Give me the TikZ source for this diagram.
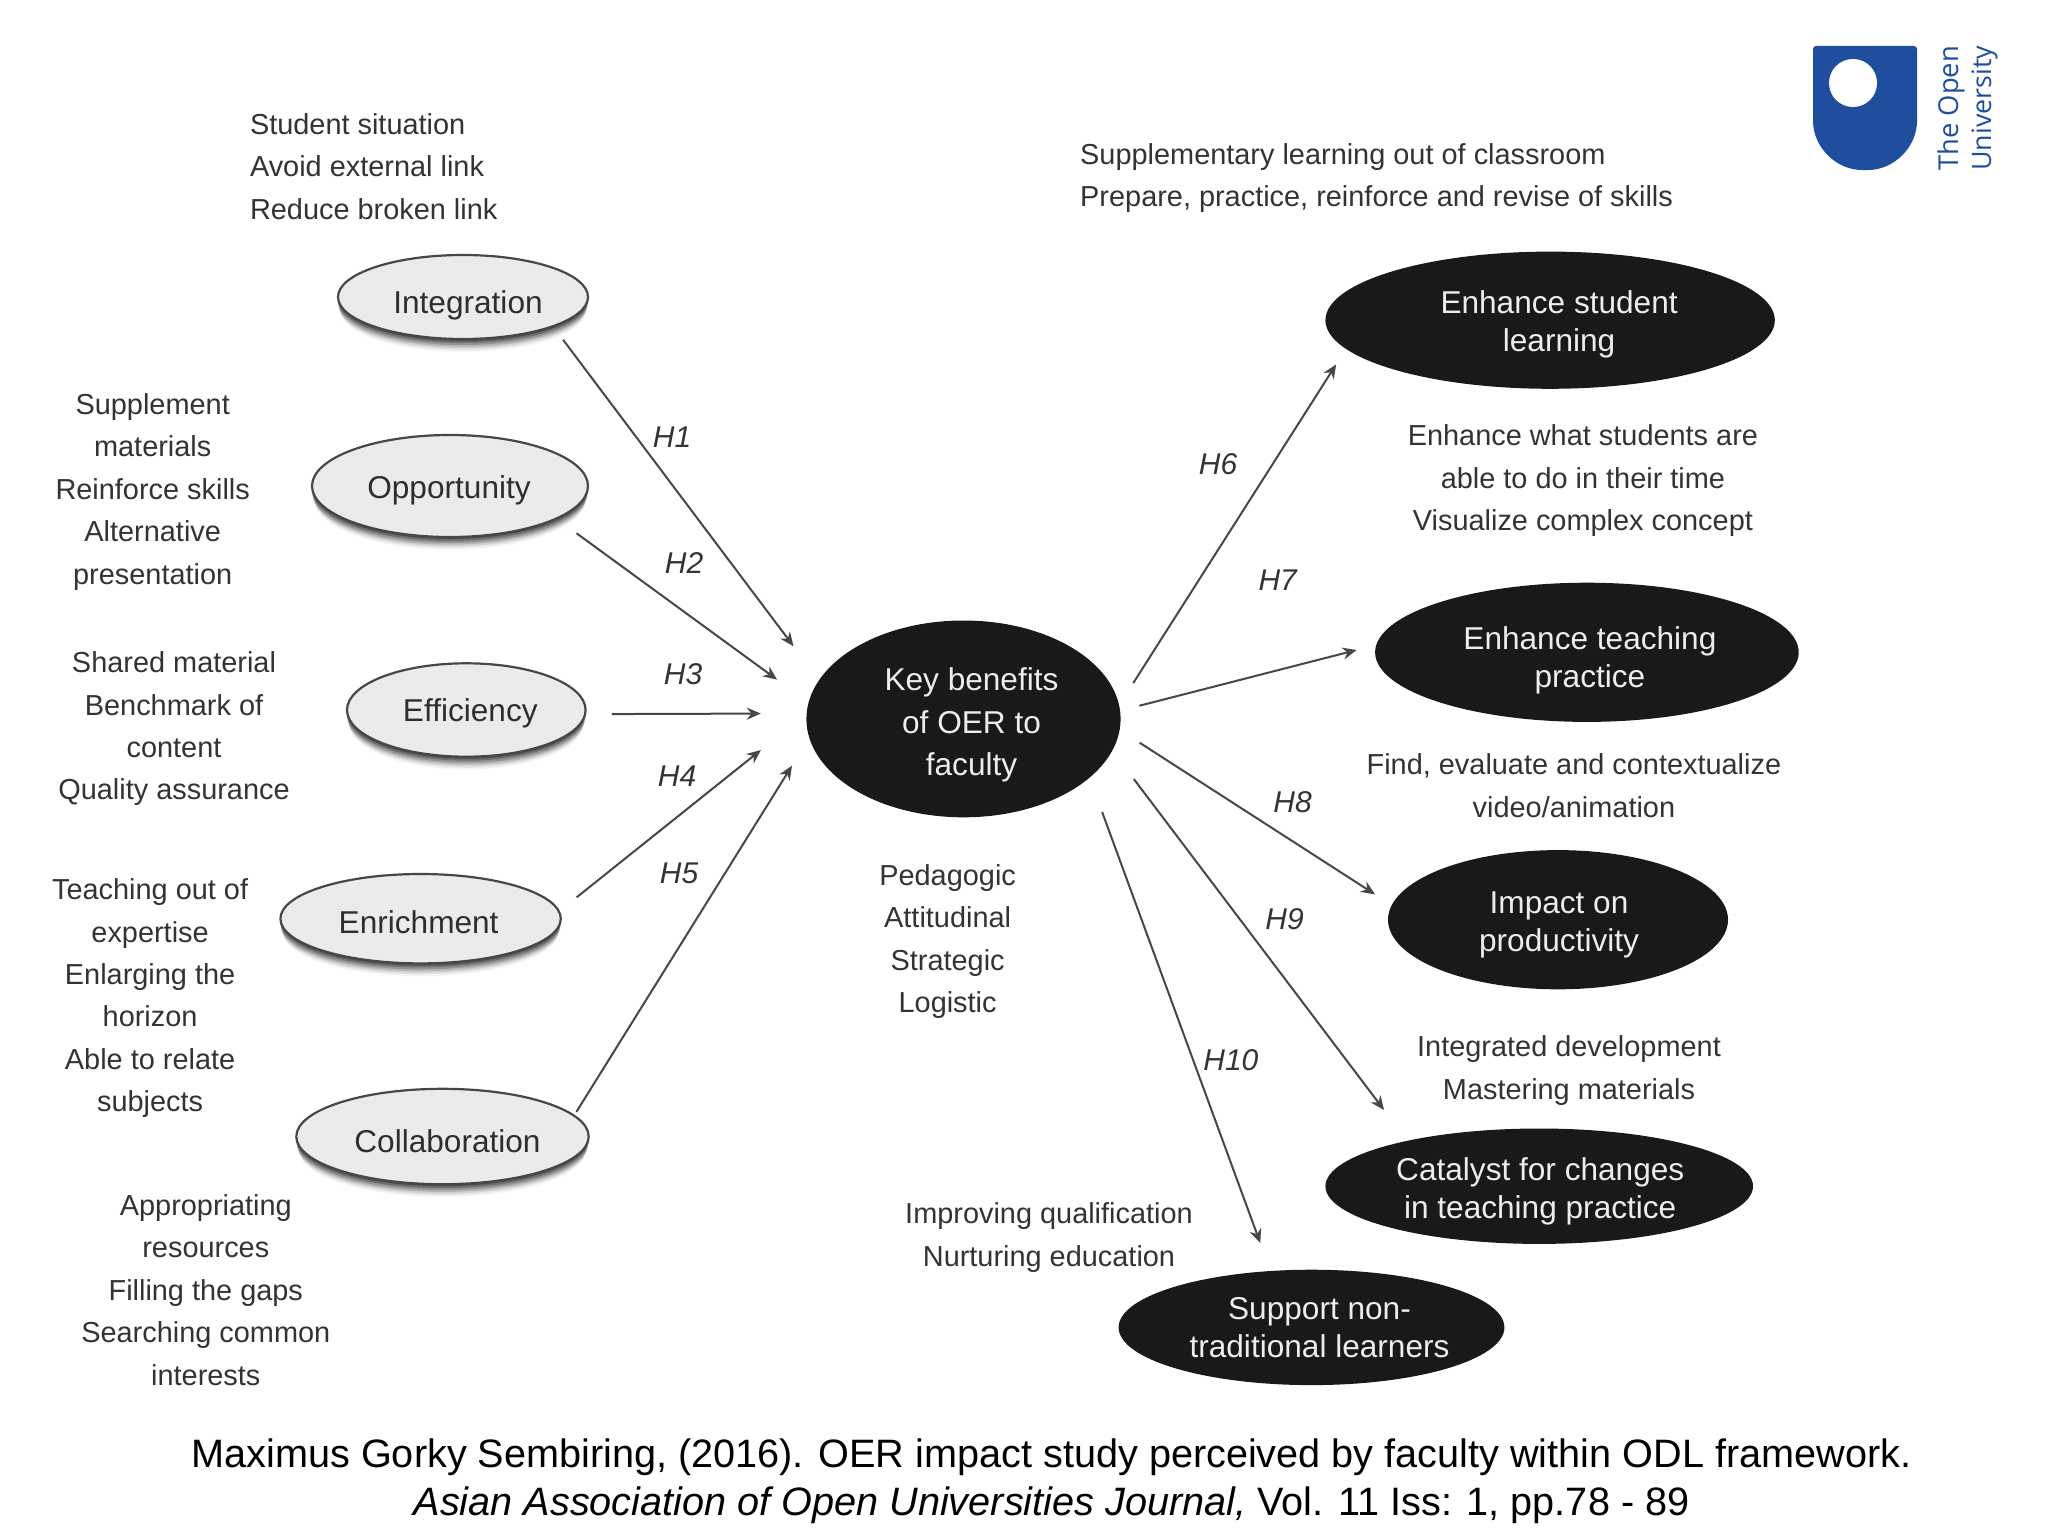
\documentclass[tikz,border=0pt]{standalone}
\usepackage{fontspec}
\setmainfont{Liberation Sans}
\newfontfamily\logofont{Open Sans}
\usetikzlibrary{shapes.geometric,arrows.meta,shadows}
\definecolor{ink}{HTML}{333333}
\definecolor{oublue}{HTML}{1F4E9E}
\newcommand{\nudged}[3]{\mbox{\kern#1\raisebox{-#2}[\height][\depth]{\begin{tabular}{@{}c@{}}#3\end{tabular}}\kern-#1}}
\tikzset{
  softshadow/.style={
    general shadow={shadow yshift=-7pt,shadow scale=0.98,fill=black,opacity=0.04},
    general shadow={shadow yshift=-6pt,shadow scale=0.985,fill=black,opacity=0.06},
    general shadow={shadow yshift=-5pt,shadow scale=0.99,fill=black,opacity=0.09},
    general shadow={shadow yshift=-4pt,shadow scale=0.995,fill=black,opacity=0.13},
    general shadow={shadow yshift=-3pt,fill=black,opacity=0.18},
    general shadow={shadow yshift=-2pt,fill=black,opacity=0.25},
    general shadow={shadow yshift=-1pt,fill=black,opacity=0.3}},
  lightnode/.style={ellipse,draw=black!72,line width=1.1pt,fill=black!8,text=black!82,
    inner sep=0pt,outer sep=0pt,font=\fontsize{15.8}{18.9}\selectfont,softshadow},
  darknode/.style={ellipse,fill=black!90,text=black!7,inner sep=0pt,outer sep=0pt,
    font=\fontsize{15.8}{18.9}\selectfont},
  note/.style={text=ink,inner sep=0pt,font=\fontsize{14.45}{21.2}\selectfont},
  hlabel/.style={text=ink,inner sep=0pt,font=\fontsize{15}{18}\selectfont\itshape},
  conn/.style={draw=black!72,line width=1pt,-{Stealth[length=7pt,width=6pt]}},
  cite/.style={text=black,inner sep=0pt,align=center,font=\fontsize{19.82}{23.9}\selectfont},
  logotext/.style={text=oublue,inner sep=0pt,rotate=90,anchor=base west,font=\logofont\fontsize{13.7}{15}\selectfont}
}
\begin{document}
\begin{tikzpicture}[x=0.5pt,y=-0.5pt]
\useasboundingbox[fill=white] (0,0) rectangle (2048,1536);
% light nodes
\node[lightnode,minimum width=125pt,minimum height=42pt] (integration) at (463,297) {\nudged{2.5pt}{4.3pt}{Integration}};
\node[lightnode,minimum width=138pt,minimum height=51pt] (opportunity) at (450,486) {\nudged{-0.5pt}{2.5pt}{Opportunity}};
\node[lightnode,minimum width=119.3pt,minimum height=46.7pt] (efficiency) at (466.3,710) {\nudged{2pt}{2.2pt}{Efficiency}};
\node[lightnode,minimum width=140.2pt,minimum height=44.7pt] (enrichment) at (420.6,918.7) {\nudged{-1pt}{3.5pt}{Enrichment}};
\node[lightnode,minimum width=146.2pt,minimum height=47.7pt] (collaboration) at (442.5,1136.5) {\nudged{2.5pt}{4.25pt}{Collaboration}};
% dark nodes
\node[darknode,minimum width=157.1pt,minimum height=98.4pt] (key) at (963.5,718.9) {\nudged{4pt}{3.3pt}{Key benefits\\[2.3pt]of OER to\\[2.3pt]faculty}};
\node[darknode,minimum width=224.7pt,minimum height=68.6pt] (student) at (1550.1,320.2) {\nudged{4.5pt}{2.2pt}{Enhance student\\learning}};
\node[darknode,minimum width=211.8pt,minimum height=69.6pt] (teaching) at (1586.9,652.3) {\nudged{1.5pt}{4.2pt}{Enhance teaching\\practice}};
\node[darknode,minimum width=170pt,minimum height=69.6pt] (impact) at (1558,919.7) {\nudged{0.5pt}{2.45pt}{Impact on\\productivity}};
\node[darknode,minimum width=213.8pt,minimum height=57.7pt] (catalyst) at (1539.2,1186.2) {\nudged{0.5pt}{2.7pt}{Catalyst for changes\\in teaching practice}};
\node[darknode,minimum width=192.9pt,minimum height=57.7pt] (support) at (1311.5,1327.4) {\nudged{4pt}{1.8pt}{Support non-\\traditional learners}};
% connectors
\draw[conn,shorten <=8.5pt,shorten >=21.25pt] (integration.-18.3) -- (key.165.35);
\draw[conn,shorten <=12.5pt,shorten >=19.5pt] (opportunity.-17.6) -- (key.174.7);
\draw[conn,shorten <=13.4pt,shorten >=22.9pt] (efficiency.-2.4) -- (key.178.6);
\draw[conn,shorten <=11.3pt,shorten >=29.3pt] (enrichment.3.7) -- (key.178);
\draw[conn,shorten <=2.2pt,shorten >=16.4pt] (collaboration.9.2) -- (key.187.8);
\draw[conn,shorten <=13.2pt,shorten >=9.15pt] (key.5.8) -- (student.188.9);
\draw[conn,shorten <=9.95pt,shorten >=10.15pt] (key.3.3) -- (teaching.178.1);
\draw[conn,shorten <=11.9pt,shorten >=9.95pt] (key.-4.3) -- (impact.175.55);
\draw[conn,shorten <=17.9pt,shorten >=19.3pt] (key.-12.6) -- (catalyst.161.7);
\draw[conn,shorten <=18.3pt,shorten >=14.9pt] (key.-25.2) -- (support.126.3);
% connector labels
\node[hlabel] (h1) at (672.1,437.5) {H1};
\node[hlabel] (h2) at (684.1,562.8) {H2};
\node[hlabel] (h3) at (683.1,674.4) {H3};
\node[hlabel] (h4) at (677.1,776.5) {H4};
\node[hlabel] (h5) at (679.1,873) {H5};
\node[hlabel] (h6) at (1218,464.3) {H6};
\node[hlabel] (h7) at (1277.7,579.7) {H7};
\node[hlabel] (h8) at (1292.6,802.4) {H8};
\node[hlabel] (h9) at (1284.6,918.7) {H9};
\node[hlabel] (h10) at (1230.9,1059.9) {H10};
% notes
\node[note,anchor=west,align=left] (n1) at (249.6,166.4) {Student situation\\Avoid external link\\Reduce broken link};
\node[note,align=center] (n2) at (152.7,491.8) {Supplement\\materials\\Reinforce skills\\Alternative\\presentation};
\node[note,align=center] (n3) at (174,728.8) {Shared material\\Benchmark of\\content\\Quality assurance};
\node[note,align=center] (n4) at (150.1,998.3) {Teaching out of\\expertise\\Enlarging the\\horizon\\Able to relate\\subjects};
\node[note,align=center] (n5) at (205.8,1290) {Appropriating\\resources\\Filling the gaps\\Searching common\\interests};
\node[note,anchor=west,align=left] (n6) at (1079.8,178.3) {Supplementary learning out of classroom\\Prepare, practice, reinforce and revise of skills};
\node[note,align=center] (n7) at (1582.9,480.8) {Enhance what students are\\able to do in their time\\Visualize complex concept};
\node[note,align=center] (n8) at (1573.9,785.5) {Find, evaluate and contextualize\\video/animation};
\node[note,align=center] (n9) at (947.6,941.6) {Pedagogic\\Attitudinal\\Strategic\\Logistic};
\node[note,align=center] (n10) at (1569,1070.5) {Integrated development\\Mastering materials};
\node[note,align=center] (n11) at (1049,1237.5) {Improving qualification\\Nurturing education};
% citation
\node[cite] (citation) at (1051.5,1481) {Maximus Gorky Sembiring, (2016). OER impact study perceived by faculty within ODL framework.\\\textit{Asian Association of Open Universities Journal,} Vol. 11 Iss: 1, pp.78 - 89};
% logo
\fill[oublue,rounded corners=1.5pt] (1813,46) -- (1917,46) -- (1917,118) -- (1917,118) .. controls (1917,147) and (1894,170) .. (1865,170) .. controls (1836,170) and (1813,147) .. (1813,118) -- cycle;
\fill[white] (1853,83) circle [radius=24];
\node[logotext] (logo1) at (1958,171) {The Open};
\node[logotext,font=\logofont\fontsize{13.4}{15}\selectfont] (logo2) at (1991,171) {University};
\end{tikzpicture}
\end{document}
